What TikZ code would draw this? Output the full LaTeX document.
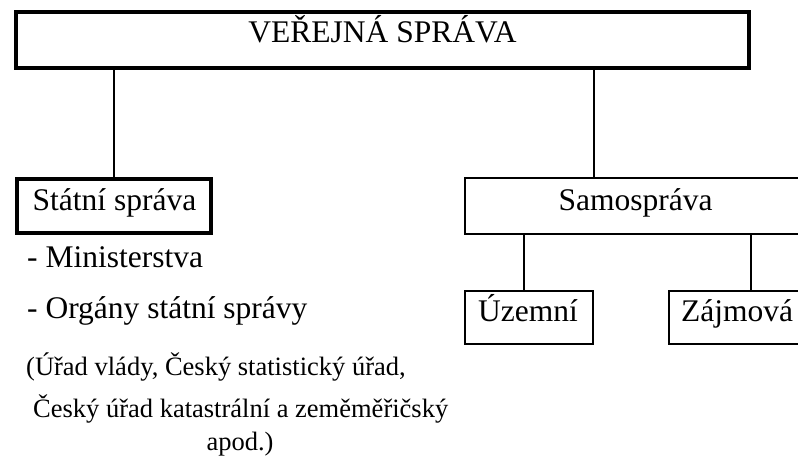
\documentclass[tikz,border=0pt]{standalone}
\usepackage{fontspec}
\setmainfont{Liberation Serif}
\begin{document}
\begin{tikzpicture}[x=1pt,y=-1pt,
  thickbox/.style={draw,line width=4pt,inner sep=0pt},
  thinbox/.style={draw,line width=2pt,inner sep=0pt},
  conn/.style={line width=2pt},
  big/.style={font=\fontsize{31.5}{36}\selectfont,inner sep=0pt},
  small/.style={font=\fontsize{26.5}{30}\selectfont,inner sep=0pt}]
\useasboundingbox (0,0) rectangle (798,460);
\clip (0,0) rectangle (798,460);
% boxes
\node[thickbox,minimum width=733pt,minimum height=56pt] (top) at (382.5,40) {};
\node[thickbox,minimum width=194pt,minimum height=54pt] (stat) at (114,206) {};
\node[thinbox,minimum width=341pt,minimum height=56pt] (samo) at (635.5,206) {};
\node[thinbox,minimum width=128pt,minimum height=53pt] (uzem) at (529,317.5) {};
\node[thinbox,minimum width=137pt,minimum height=53pt] (zaj) at (737.5,317.5) {};
% box texts
\node[big,anchor=base] (toptext) at (382.5,43) {VEŘEJNÁ SPRÁVA};
\node[big,anchor=base] (stattext) at (114.5,210) {Státní správa};
\node[big,anchor=base] (samotext) at (635.5,210) {Samospráva};
\node[big,anchor=base] (uzemtext) at (528,321) {Územní};
\node[big,anchor=base] (zajtext) at (737,321) {Zájmová};
% connectors
\draw[conn] (top.south -| stat.north) -- (stat.north);
\draw[conn] (top.south -| uzem.east) -- (samo.north -| uzem.east);
\draw[conn] ([xshift=-5pt]uzem.north |- samo.south) -- ([xshift=-5pt]uzem.north);
\draw[conn] (samo.south -| top.east) -- (zaj.north -| top.east);
% list texts
\node[big,anchor=base west] (min) at (27,267) {- Ministerstva};
\node[big,anchor=base west] (org) at (27,318) {- Orgány státní správy};
\node[small,anchor=base west] (l1) at (26,375) {(Úřad vlády, Český statistický úřad,};
\node[small,anchor=base west] (l2) at (33,417) {Český úřad katastrální a zeměměřičský};
\node[small,anchor=base] (l3) at (240,450) {apod.)};
\end{tikzpicture}
\end{document}
